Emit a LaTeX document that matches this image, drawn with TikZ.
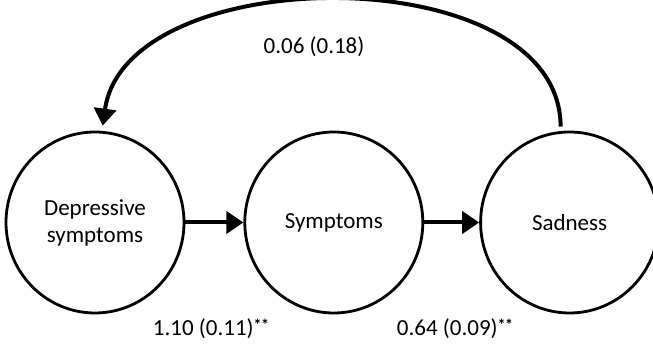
\documentclass[tikz,border=0pt]{standalone}
\usepackage{fontspec}
\setmainfont{Carlito}
\usetikzlibrary{positioning, shapes, arrows.meta}

\tikzset{
  latent/.style={draw, ellipse, line width=1.4pt, minimum width=89pt, minimum height=90.5pt, inner sep=0pt, align=center},
  effect/.style={-{Triangle[length=8.5pt,width=11pt]}, line width=2pt},
  coef/.style={font=\fontsize{11.5}{14}\selectfont}
}
\newcommand{\sigstars}{\raisebox{2.5pt}{\fontsize{8}{8}\selectfont\bfseries*\kern-0.3pt*}}

\begin{document}
\begin{tikzpicture}[x=0.5pt, y=0.5pt, font=\fontsize{11.5}{13.5}\selectfont]
        \useasboundingbox (0,0) rectangle (653,347);

        % Latent variables
        \node[latent] (dep) at (95,124.5) {Depressive\\symptoms};
        \node[latent, right=29pt of dep] (sym) {Symptoms};
        \node[latent, right=27.5pt of sym] (sad) {Sadness};

        % Paths
        \draw[effect] (dep) -- (sym);
        \draw[effect] (sym) -- (sad);
        \draw[effect, shorten <=2pt, shorten >=2.5pt] ([xshift=-4.5pt]sad.north) to[out=90, in=82, looseness=0.97] ([xshift=3.5pt]dep.north);

        % Coefficients
        \node[coef] (c1) at (314,300) {0.06 (0.18)};
        \node[coef] (c2) at (211,18) {1.10 (0.11)\sigstars};
        \node[coef] (c3) at (455,18) {0.64 (0.09)\sigstars};
      \end{tikzpicture}
\end{document}
